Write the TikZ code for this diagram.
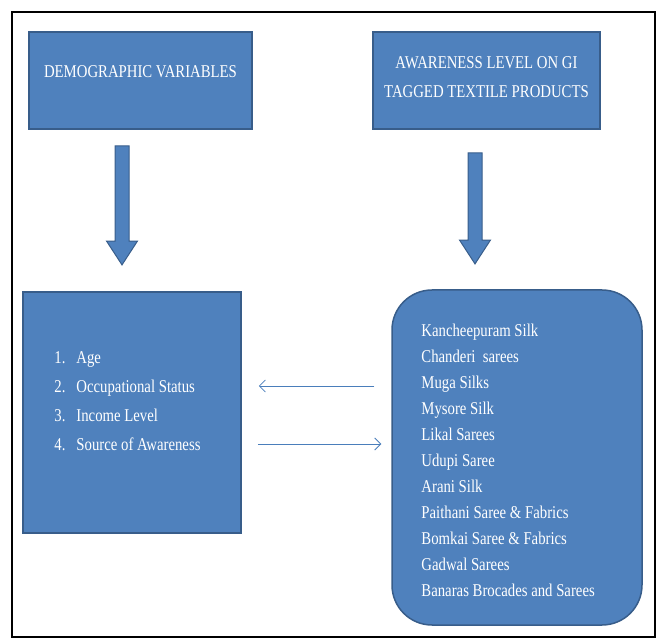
\documentclass[tikz,border=0pt]{standalone}
\usepackage{fontspec}
\setmainfont{Liberation Serif}[FakeStretch=0.82]
\usetikzlibrary{shapes.arrows,arrows.meta}
\definecolor{boxblue}{HTML}{4F81BD}
\definecolor{boxedge}{HTML}{385D8A}
\definecolor{linkblue}{HTML}{4A7EBB}
\newcommand{\numitem}[1]{\makebox[22pt][l]{#1}}
\begin{document}
\begin{tikzpicture}[x=1pt, y=-1pt,
        panel/.style={draw=boxedge, line width=1.5pt, fill=boxblue,
                      inner sep=0pt},
        roundpanel/.style={panel, rounded corners=40pt},
        paneltext/.style={text=white, inner sep=0pt, align=center,
                          font=\fontsize{18}{29}\selectfont},
        listtext/.style={text=white, inner sep=0pt, align=left,
                         font=\fontsize{18}{26}\selectfont},
        downarrow/.style={single arrow, draw=boxedge, line width=1pt,
                          fill=boxblue, minimum width=30pt, inner sep=6.5pt,
                          single arrow head extend=8.5pt,
                          single arrow tip angle=66, shape border rotate=270},
        link/.style={draw=linkblue, line width=0.8pt,
                     -{Straight Barb[length=6pt,width=12pt]}}]
        \useasboundingbox (0,0) rectangle (657,639);
        \draw[line width=1.2pt] (12,12) rectangle (655,637);
        \node[panel, minimum width=223pt, minimum height=97pt] (demo) at (140.5,80.5) {};
        \node[paneltext] (demotext) at ([yshift=8.5pt]demo.center) {DEMOGRAPHIC VARIABLES};
        \node[panel, minimum width=227pt, minimum height=97pt] (aware) at (486.5,80.5) {};
        \node[paneltext] (awaretext) at ([yshift=3pt]aware.center)
            {AWARENESS LEVEL ON GI\\TAGGED TEXTILE PRODUCTS};
        \node[downarrow, minimum height=119pt] (demoarrow) at (122,200) {};
        \node[downarrow, minimum height=111pt] (awarearrow) at (475,203) {};
        \node[panel, minimum width=218pt, minimum height=241pt] (demobox) at (132,412.5) {};
        \node[listtext, font=\fontsize{18}{29}\selectfont, anchor=west] (demolist)
            at ([xshift=32pt,yshift=11pt]demobox.west)
            {\numitem{1.}Age\\ \numitem{2.}Occupational Status\\
             \numitem{3.}Income Level\\ \numitem{4.}Source of Awareness};
        \node[roundpanel, minimum width=250pt, minimum height=335pt] (prodbox) at (517,457.5) {};
        \node[listtext, anchor=west] (prodlist) at ([xshift=30pt,yshift=-2.5pt]prodbox.west)
            {Kancheepuram Silk\\ Chanderi~ sarees\\ Muga Silks\\ Mysore Silk\\
             Likal Sarees\\ Udupi Saree\\ Arani Silk\\ Paithani Saree \& Fabrics\\
             Bomkai Saree \& Fabrics\\ Gadwal Sarees\\ Banaras Brocades and Sarees};
        \coordinate (upper) at (0,386);
        \coordinate (lower) at (0,444);
        \draw[link, shorten <=17pt, shorten >=17pt] (prodbox.west |- upper) -- (demobox.east |- upper);
        \draw[link, shorten <=16pt, shorten >=10pt] (demobox.east |- lower) -- (prodbox.west |- lower);
    \end{tikzpicture}
\end{document}
